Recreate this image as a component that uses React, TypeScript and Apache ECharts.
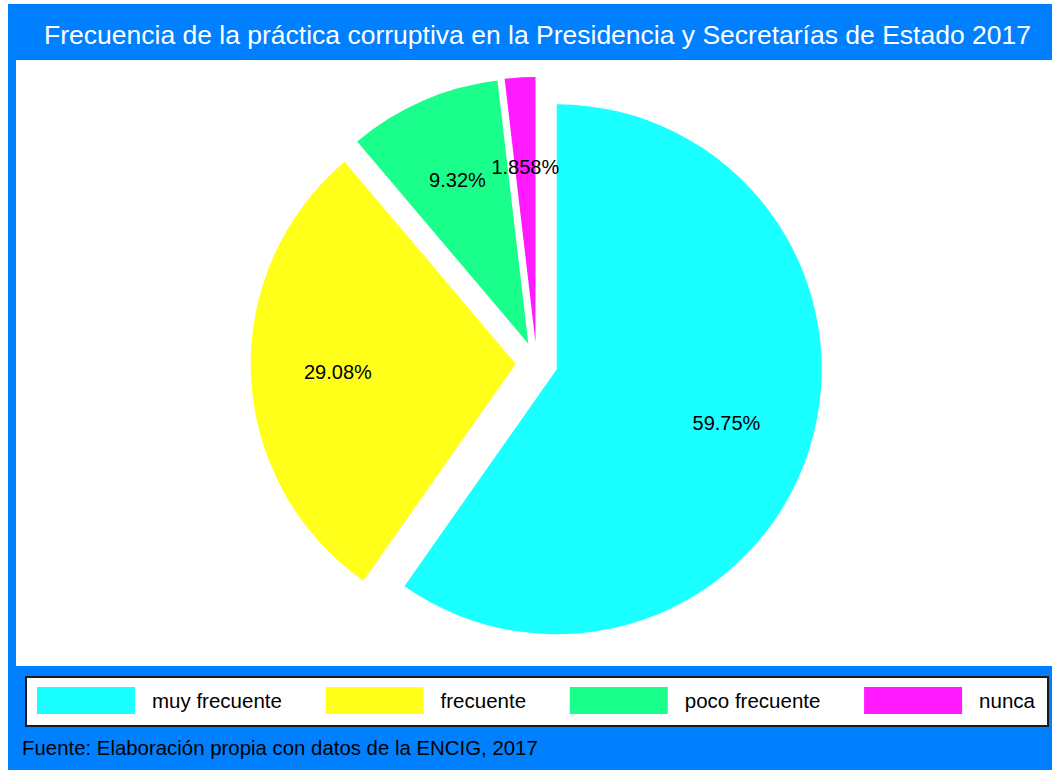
import React, { useEffect, useRef } from "react";
import * as echarts from "echarts";

const categories = ["muy frecuente", "frecuente", "poco frecuente", "nunca"];
const values = [59.75, 29.08, 9.32, 1.858];
const pctLabels = ["59.75%", "29.08%", "9.32%", "1.858%"];
const colors = ["#1AFFFF", "#FFFF1A", "#1AFF8C", "#FF1AFF"];
const titleText = "Frecuencia de la práctica corruptiva en la Presidencia y Secretarías de Estado 2017";
const footerText = "Fuente: Elaboración propia con datos de la ENCIG, 2017";

const FONT = "'Liberation Sans', Arial, sans-serif";
const BLUE = "#0080FF";

export default function App() {
  const ref = useRef<HTMLDivElement>(null);
  useEffect(() => {
    document.body.style.margin = "0";
    const chart = echarts.init(ref.current!, null, { renderer: "svg" });
    const center = [536.7, 363];
    const ghostBase = {
      type: "pie",
      center,
      startAngle: 90,
      clockwise: true,
      selectedMode: "multiple",
      selectedOffset: 21,
      silent: true,
      emphasis: { disabled: true },
      avoidLabelOverlap: false,
      minShowLabelAngle: 0,
      labelLayout: { hideOverlap: false },
      labelLine: { show: false },
      itemStyle: { color: "rgba(0,0,0,0)" },
    };
    const labelStyle = {
      fontSize: 20,
      color: "#000000",
      fontFamily: FONT,
      formatter: (p: any) => pctLabels[p.dataIndex],
    };
    chart.setOption({
      animation: false,
      backgroundColor: "#ffffff",
      textStyle: { fontFamily: FONT },
      graphic: {
        elements: [
          { type: "rect", z: 0, silent: true, shape: { x: 8, y: 4, width: 1044, height: 766 }, style: { fill: BLUE } },
          { type: "rect", z: 0, silent: true, shape: { x: 16, y: 60, width: 1036, height: 606 }, style: { fill: "#ffffff" } },
          { type: "rect", z: 0, silent: true, shape: { x: 26, y: 677, width: 1022, height: 49 }, style: { fill: "#ffffff", stroke: "#1a1a1a", lineWidth: 2 } },
          { type: "text", z: 10, silent: true, x: 537.5, y: 35, style: { text: titleText, fill: "#ffffff", font: `26.5px ${FONT}`, textAlign: "center", textVerticalAlign: "middle" } },
          { type: "text", z: 10, silent: true, x: 22, y: 748, style: { text: footerText, fill: "#000000", font: `20.4px ${FONT}`, textAlign: "left", textVerticalAlign: "middle" } },
        ],
      },
      legend: {
        data: categories.map((n, i) => ({ name: n, itemStyle: { color: colors[i] } })),
        left: 37,
        top: 687,
        padding: 0,
        itemWidth: 98,
        itemHeight: 27,
        itemGap: 43.7,
        icon: "rect",
        selectedMode: false,
        textStyle: { fontSize: 20.5, color: "#000000", fontFamily: FONT, padding: [0, 0, 0, 12] },
      },
      series: [
        {
          type: "pie",
          center,
          radius: [0, 265],
          startAngle: 90,
          clockwise: true,
          selectedMode: "multiple",
          selectedOffset: 21,
          silent: true,
          emphasis: { disabled: true },
          label: { show: false },
          labelLine: { show: false },
          data: categories.map((n, i) => ({ name: n, value: values[i], selected: true, itemStyle: { color: colors[i] } })),
        },
        {
          ...ghostBase,
          radius: [0, 350],
          label: { show: true, position: "inside", ...labelStyle },
          data: categories.map((n, i) => ({
            name: n,
            value: values[i],
            selected: true,
            itemStyle: { color: "rgba(0,0,0,0)" },
            label: { show: i !== 3 },
          })),
        },
        {
          ...ghostBase,
          radius: [0, 350],
          label: { show: true, position: "outside", distanceToLabelLine: 5, ...labelStyle },
          labelLine: { show: false, length: -175, length2: -39 },
          data: categories.map((n, i) => ({
            name: n,
            value: values[i],
            selected: true,
            itemStyle: { color: "rgba(0,0,0,0)" },
            label: { show: i === 3 },
          })),
        },
      ],
    });
    return () => chart.dispose();
  }, []);
  return <div ref={ref} style={{ width: 1052, height: 770 }} />;
}
